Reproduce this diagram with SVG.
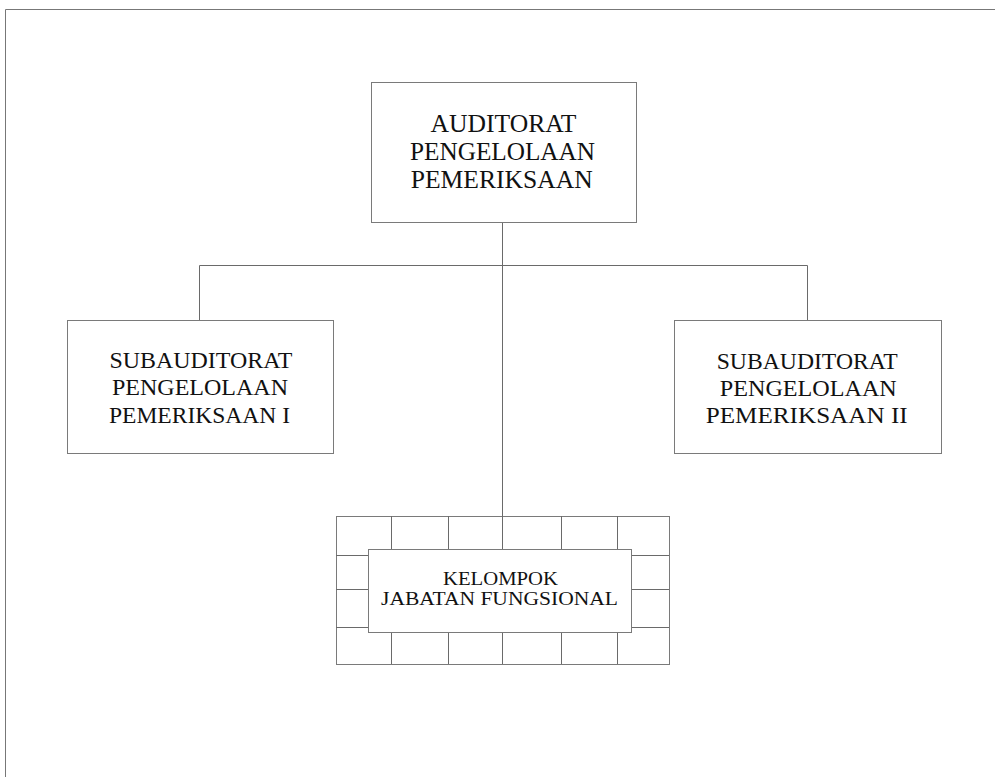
<svg xmlns="http://www.w3.org/2000/svg" width="995" height="777" viewBox="0 0 995 777">
<style>
.box{fill:#fff;stroke:#7a7a7a;stroke-width:1}
.ln{fill:none;stroke:#6a6a6a;stroke-width:1}
.t{font-family:"Liberation Serif",serif;fill:#111;text-anchor:middle}
.big{font-size:26px}
.mid{font-size:23px}
.sm{font-size:18px}
</style>
<rect width="995" height="777" fill="#fff"/>
<path d="M5.5 777 V9.5 H995" fill="none" stroke="#777" stroke-width="1"/>
<g id="connectors">
<path class="ln" d="M502.5 222 V516"/>
<path class="ln" d="M199.5 320 V265.5 H807.5 V320"/>
</g>
<g id="n-top">
<rect class="box" x="371.5" y="82.5" width="265" height="140"/>
<text class="t big" x="503.5" y="131.5" textLength="146" lengthAdjust="spacingAndGlyphs">AUDITORAT</text>
<text class="t big" x="502.5" y="160" textLength="185" lengthAdjust="spacingAndGlyphs">PENGELOLAAN</text>
<text class="t big" x="501.7" y="188.3" textLength="182" lengthAdjust="spacingAndGlyphs">PEMERIKSAAN</text>
</g>
<g id="n-left">
<rect class="box" x="67.5" y="320.5" width="266" height="133"/>
<text class="t mid" x="201" y="368.3" textLength="183" lengthAdjust="spacingAndGlyphs">SUBAUDITORAT</text>
<text class="t mid" x="200" y="395" textLength="176" lengthAdjust="spacingAndGlyphs">PENGELOLAAN</text>
<text class="t mid" x="199.5" y="423.3" textLength="181" lengthAdjust="spacingAndGlyphs">PEMERIKSAAN I</text>
</g>
<g id="n-right">
<rect class="box" x="674.5" y="320.5" width="267" height="133"/>
<text class="t mid" x="807.2" y="369" textLength="181" lengthAdjust="spacingAndGlyphs">SUBAUDITORAT</text>
<text class="t mid" x="808.3" y="396" textLength="177" lengthAdjust="spacingAndGlyphs">PENGELOLAAN</text>
<text class="t mid" x="806.7" y="423.3" textLength="202" lengthAdjust="spacingAndGlyphs">PEMERIKSAAN II</text>
</g>
<g id="n-jf">
<rect class="box" x="336.5" y="516.5" width="333" height="148"/>
<path class="ln" d="M391.5 516 V664 M448.5 516 V664 M502.5 516 V664 M561.5 516 V664 M617.5 516 V664 M336 555.5 H669 M336 589.5 H669 M336 627.5 H669"/>
<rect class="box" x="368.5" y="549.5" width="263" height="83"/>
<text class="t sm" x="500.5" y="585" textLength="115" lengthAdjust="spacingAndGlyphs">KELOMPOK</text>
<text class="t sm" x="499.5" y="605" textLength="237" lengthAdjust="spacingAndGlyphs">JABATAN FUNGSIONAL</text>
</g>
</svg>
